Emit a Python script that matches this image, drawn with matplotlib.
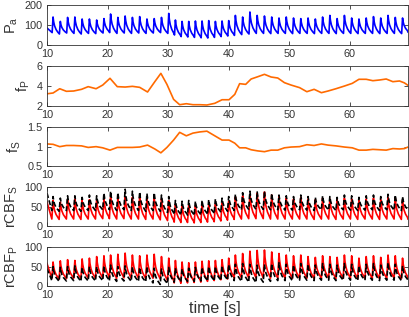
import matplotlib
matplotlib.use("Agg")
import matplotlib.pyplot as plt

plt.rcParams['font.family'] = ['Liberation Sans', 'DejaVu Sans']
plt.rcParams['mathtext.default'] = 'regular'

# ---------------- data ----------------
t_start, t_end = 10.0, 69.6

beat_t = [11.0, 12.2, 13.4, 14.6, 15.8, 17.0, 18.2, 19.4, 20.5, 21.7, 22.9, 24.1,
          25.3, 26.5, 27.7, 28.9, 30.1, 31.2, 32.3, 33.4, 34.5, 35.6, 36.7, 37.8,
          38.9, 40.0, 41.1, 42.3, 43.5, 44.7, 45.9, 47.1, 48.3, 49.5, 50.7, 51.9,
          53.1, 54.3, 55.5, 56.7, 57.9, 59.1, 60.3, 61.5, 62.7, 63.9, 65.1, 66.3,
          67.5, 68.7]

pa_peak = [140, 118, 138, 140, 130, 130, 125, 132, 155, 138, 145, 138,
           142, 130, 132, 138, 158, 125, 118, 118, 120, 120, 122, 118,
           120, 122, 148, 140, 165, 148, 145, 140, 135, 140, 135, 132,
           135, 130, 140, 148, 132, 148, 135, 130, 135, 142, 135, 148,
           138, 135]
pa_trough = [62, 55, 60, 58, 55, 58, 57, 60, 62, 58, 60, 58,
             60, 58, 60, 62, 58, 50, 42, 40, 38, 36, 35, 38,
             42, 45, 48, 52, 55, 58, 58, 57, 58, 58, 57, 58,
             58, 57, 58, 58, 57, 58, 58, 57, 58, 58, 57, 58,
             58, 57]
pa_ends = [85, 65]

f_t = [10.0, 11.0, 12.1, 13.2, 14.4, 15.7, 16.8, 18.1, 19.2, 20.4, 21.6, 22.9,
       24.1, 25.3, 26.6, 27.8, 28.8, 29.8, 30.9, 31.9, 33.0, 34.1, 35.2, 36.4,
       37.7, 38.9, 40.05, 41.0, 41.8, 42.8, 43.7, 44.8, 45.9, 47.0, 48.1, 49.2,
       50.3, 51.7, 52.9, 54.1, 55.3, 56.4, 57.7, 59.1, 60.4, 61.5, 62.7, 63.8,
       64.9, 66.0, 67.1, 68.2, 69.0, 69.6]
f_p = [3.2, 3.28, 3.71, 3.45, 3.48, 3.65, 3.92, 3.71, 4.08, 4.76, 3.92, 3.88,
       3.95, 3.85, 3.38, 4.42, 5.26, 4.15, 2.64, 2.1, 2.2, 2.1, 2.1, 2.07,
       2.24, 2.6, 2.6, 3.14, 4.22, 4.15, 4.69, 4.92, 5.16, 4.89, 4.79, 4.32,
       4.08, 3.82, 3.41, 3.65, 3.31, 3.48, 3.71, 3.98, 4.25, 4.66, 4.66, 4.52,
       4.59, 4.69, 4.42, 4.49, 4.3, 4.05]
f_s = [1.07, 1.06, 1.0, 1.03, 1.03, 1.02, 0.98, 1.0, 0.97, 0.91, 0.98, 0.98,
       0.98, 0.99, 1.04, 0.94, 0.84, 0.98, 1.17, 1.37, 1.28, 1.35, 1.38, 1.40,
       1.28, 1.17, 1.17, 1.09, 0.97, 0.97, 0.92, 0.89, 0.87, 0.91, 0.91, 0.97,
       0.99, 1.0, 1.05, 1.03, 1.07, 1.04, 1.02, 0.99, 0.97, 0.91, 0.91, 0.93,
       0.92, 0.91, 0.95, 0.94, 0.95, 0.99]

cbfs_red_peak = [66, 62, 68, 70, 66, 68, 66, 70, 74, 72, 76, 74,
                 75, 72, 74, 70, 66, 56, 52, 54, 52, 54, 55, 56,
                 60, 64, 75, 78, 82, 85, 88, 80, 76, 72, 70, 74,
                 70, 68, 72, 70, 68, 72, 70, 66, 70, 72, 68, 74,
                 72, 66]
cbfs_red_trough = [18, 17, 18, 18, 17, 18, 18, 19, 19, 18, 19, 18,
                   18, 17, 18, 16, 14, 10, 9, 9, 8, 9, 10, 11,
                   13, 15, 17, 18, 19, 19, 19, 18, 18, 18, 18, 18,
                   18, 17, 18, 18, 17, 18, 18, 17, 18, 18, 17, 18,
                   18, 17]
cbfs_blk_peak = [76, 72, 78, 78, 74, 80, 78, 85, 90, 86, 95, 90,
                 88, 84, 86, 80, 76, 66, 64, 66, 64, 66, 68, 70,
                 72, 76, 82, 86, 90, 88, 90, 84, 80, 78, 76, 80,
                 76, 74, 78, 76, 74, 80, 78, 74, 78, 80, 76, 82,
                 80, 76]
cbfs_blk_trough = [40, 38, 40, 40, 38, 40, 40, 42, 42, 40, 42, 40,
                   40, 38, 40, 38, 35, 30, 28, 28, 27, 28, 30, 32,
                   35, 38, 40, 42, 43, 43, 43, 42, 42, 41, 41, 42,
                   41, 40, 42, 41, 40, 42, 41, 40, 41, 42, 40, 42,
                   41, 40]
cbfs_red_ends = [62, 18]
cbfs_blk_ends = [85, 40]

cbfp_red_peak = [62, 65, 68, 66, 70, 72, 76, 78, 80, 82, 85, 80,
                 78, 80, 82, 76, 72, 66, 62, 60, 62, 64, 65, 66,
                 68, 72, 80, 84, 90, 92, 93, 88, 84, 80, 78, 80,
                 76, 74, 78, 76, 74, 80, 78, 72, 76, 78, 74, 80,
                 78, 72]
cbfp_red_trough = [20, 18, 19, 20, 19, 20, 20, 21, 20, 20, 21, 20,
                   20, 19, 20, 18, 14, 8, 7, 8, 9, 10, 12, 14,
                   16, 18, 20, 21, 21, 21, 21, 20, 20, 20, 20, 20,
                   20, 19, 20, 20, 19, 20, 20, 19, 20, 20, 19, 20,
                   20, 19]
cbfp_blk_peak = [50, 48, 50, 52, 48, 50, 50, 52, 54, 50, 52, 50,
                 48, 50, 46, 44, 48, 46, 44, 46, 48, 48, 50, 50,
                 52, 55, 56, 58, 56, 54, 56, 58, 60, 56, 54, 58,
                 56, 54, 58, 56, 54, 58, 56, 52, 56, 58, 54, 60,
                 56, 52]
cbfp_blk_trough = [14, 12, 13, 14, 12, 13, 13, 14, 13, 12, 13, 12,
                   12, 11, 8, 4, 6, 10, 11, 12, 12, 13, 13, 13,
                   14, 15, 14, 12, 10, 9, 10, 12, 14, 14, 14, 15,
                   15, 14, 15, 15, 14, 15, 15, 14, 15, 15, 14, 15,
                   15, 14]
cbfp_red_ends = [58, 20]
cbfp_blk_ends = [45, 14]

# pulse shape: rise time and decay profile after the peak
rise_pa = 0.15
rise_cbf = 0.2
decay_dt = [0.1, 0.25, 0.5, 0.8]
decay_frac = [0.72, 0.48, 0.26, 0.1]


def pulse_vertices(peaks, troughs, ends, rise):
    xs = [t_start]
    ys = [ends[0]]
    n = len(beat_t)
    for i in range(n):
        tb, pk, tr = beat_t[i], peaks[i], troughs[i]
        xs += [tb - rise, tb]
        ys += [tr, pk]
        if i + 1 < n:
            nxt_t, nxt_tr = beat_t[i + 1] - rise, troughs[i + 1]
        else:
            nxt_t, nxt_tr = t_end, ends[1]
        for dt, fr in zip(decay_dt, decay_frac):
            if tb + dt < nxt_t:
                xs.append(tb + dt)
                ys.append(nxt_tr + fr * (pk - nxt_tr))
    xs.append(t_end)
    ys.append(ends[1])
    return xs, ys


# ---------------- figure ----------------
W, H = 409, 317
fig = plt.figure(figsize=(W / 100, H / 100), dpi=100)

panels = [(5, 45), (66, 105.7), (127.3, 166), (187.3, 226), (247.3, 286)]
left_px, right_px = 47, 408
axes = []
for top, bot in panels:
    ax = fig.add_axes([left_px / W, (H - bot) / H, (right_px - left_px) / W, (bot - top) / H])
    axes.append(ax)

gray = '#333333'
orange = '#FF6A00'

x, y = pulse_vertices(pa_peak, pa_trough, pa_ends, rise_pa)
axes[0].plot(x, y, color='#0000FF', lw=1.2)
axes[1].plot(f_t, f_p, color=orange, lw=1.2)
axes[2].plot(f_t, f_s, color=orange, lw=1.2)

x, y = pulse_vertices(cbfs_red_peak, cbfs_red_trough, cbfs_red_ends, rise_cbf)
axes[3].plot(x, y, color='#FF0000', lw=1.2)
x, y = pulse_vertices(cbfs_blk_peak, cbfs_blk_trough, cbfs_blk_ends, rise_cbf)
axes[3].plot(x, y, color='black', lw=1.2, linestyle=(0, (3, 1.5)))

x, y = pulse_vertices(cbfp_red_peak, cbfp_red_trough, cbfp_red_ends, rise_cbf)
axes[4].plot(x, y, color='#FF0000', lw=1.2)
x, y = pulse_vertices(cbfp_blk_peak, cbfp_blk_trough, cbfp_blk_ends, rise_cbf)
axes[4].plot(x, y, color='black', lw=1.2, linestyle=(0, (3, 1.5)))

ylims = [(0, 200), (2, 6), (0.5, 1.5), (0, 100), (0, 100)]
yticks = [[0, 100, 200], [2, 4, 6], [0.5, 1, 1.5], [0, 50, 100], [0, 50, 100]]
yticklabels = [['0', '100', '200'], ['2', '4', '6'], ['0.5', '1', '1.5'],
               ['0', '50', '100'], ['0', '50', '100']]
ylabels = ['$P_a$', '$f_P$', '$f_S$', '$rCBF_S$', '$rCBF_P$']
xticks = [10, 20, 30, 40, 50, 60]

for ax, yl, yt, ytl, lab in zip(axes, ylims, yticks, yticklabels, ylabels):
    ax.set_xlim(t_start, t_end)
    ax.set_ylim(*yl)
    ax.set_yticks(yt)
    ax.set_yticklabels(ytl)
    ax.set_xticks(xticks)
    ax.set_xticklabels([str(v) for v in xticks])
    ax.tick_params(direction='in', top=True, right=True, length=3, width=0.6,
                   colors=gray, labelsize=7.8)
    ax.tick_params(axis='y', pad=3.2)
    ax.tick_params(axis='x', pad=3.0)
    for sp in ax.spines.values():
        sp.set_color(gray)
        sp.set_linewidth(0.6)
    ax.set_ylabel(lab, fontsize=10.5, color=gray, labelpad=3)

axes[4].set_xlabel('time [s]', fontsize=11.5, color=gray)
axes[4].xaxis.set_label_coords(0.465, -0.40)

fig.savefig('out.png', dpi=100)
